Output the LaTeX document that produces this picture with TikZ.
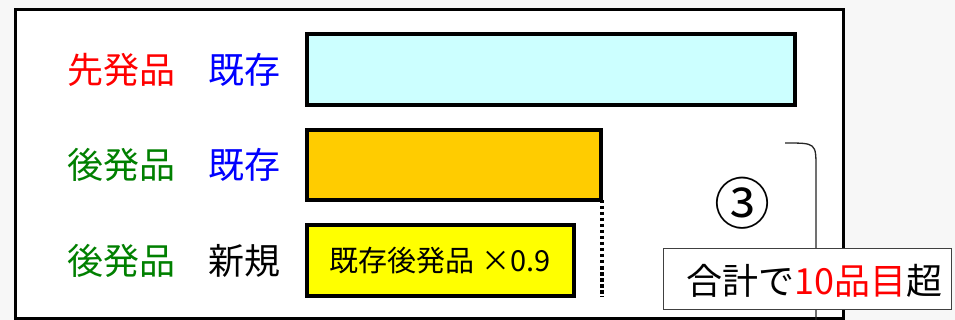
\documentclass[tikz,border=0pt]{standalone}
\usepackage{fontspec}
\setmainfont{Noto Sans CJK JP}
\definecolor{pagegray}{HTML}{F7F7F7}
\definecolor{jred}{HTML}{FF0000}
\definecolor{jblue}{HTML}{0000FF}
\definecolor{jgreen}{HTML}{008000}
\definecolor{barcyan}{HTML}{CCFFFF}
\definecolor{barorange}{HTML}{FFCC00}
\definecolor{baryellow}{HTML}{FFFF00}
\definecolor{boxgray}{HTML}{404040}
\tikzset{
  lbl/.style={anchor=west, inner sep=0pt, font=\fontsize{36}{40}\selectfont},
  bar/.style={draw=black, line width=4pt, anchor=north west, inner sep=0pt, outer sep=0pt},
}
\begin{document}
\begin{tikzpicture}[x=1pt,y=-1pt]
\useasboundingbox (0,0) rectangle (955,320);
\clip (0,0) rectangle (955,320);
\fill[pagegray] (0,0) rectangle (955,320);
% frame
\draw[line width=3pt, fill=white] (15.5,9.5) rectangle (843,318.5);
% labels
\node[lbl, text=jred]   (l1a) at (67,70)  {先発品};
\node[lbl, text=jblue]  (l1b) at (208,70) {既存};
\node[lbl, text=jgreen] (l2a) at (67,165) {後発品};
\node[lbl, text=jblue]  (l2b) at (208,165) {既存};
\node[lbl, text=jgreen] (l3a) at (67,261) {後発品};
\node[lbl, text=black]  (l3b) at (208,261) {新規};
% bars
\node[bar, fill=barcyan, minimum width=488pt, minimum height=71pt] (bar1) at (306.5,34) {};
\node[bar, fill=barorange, minimum width=294.5pt, minimum height=70pt] (bar2) at (306.5,130) {};
\node[bar, fill=baryellow, minimum width=267pt, minimum height=71pt,
      font=\fontsize{29}{32}\selectfont] (bar3) at (306.5,225) {既存後発品 ×0.9};
% dotted line
\coordinate (dotend) at (601.5,297);
\draw[line width=4pt, dash pattern=on 3.5pt off 2.5pt] ([xshift=0.5pt]bar2.south east) -- (dotend);
% bracket
\coordinate (brtop) at (785,143);
\coordinate (brbot) at (816,320);
\draw[line width=1.3pt, black!85] (brtop) .. controls (816,143) .. (816,168) -- (brbot);
% circled three
\node[inner sep=0pt, font=\fontsize{56}{60}\selectfont] (three) at (742,203) {③};
% callout box
\node[draw=boxgray, line width=1.5pt, fill=white, minimum width=288pt, minimum height=61pt,
      inner sep=0pt] (callout) at (807.5,279) {};
\node[lbl] (calltext) at (686,281) {合計で\textcolor{jred}{10品目}超};
\end{tikzpicture}
\end{document}
